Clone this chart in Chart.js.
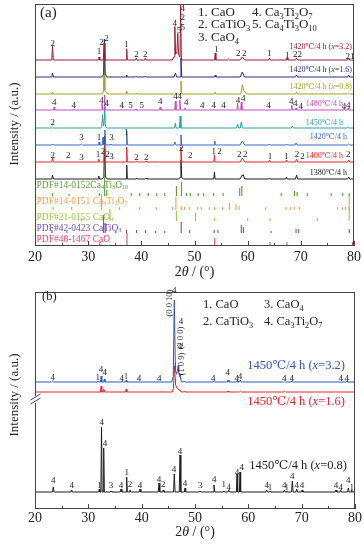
<!DOCTYPE html>
<html><head><meta charset="utf-8">
<script src="https://cdn.jsdelivr.net/npm/chart.js@4/dist/chart.umd.min.js"></script>
<style>
html,body{margin:0;padding:0;background:#fff;}
#wrap{position:relative;width:364px;height:545px;overflow:hidden;background:#fff;}
canvas{position:absolute;left:0;}
</style></head><body>
<div id="wrap">
<canvas id="ca" width="364" height="285" style="top:0"></canvas>
<canvas id="cb" width="364" height="260" style="top:285px"></canvas>
</div>
<script>
// ---------------- shared axis ----------------
const xTickLabels = ['20','30','40','50','60','70','80'];

// ---------------- panel (a): patterns, peaks = [2θ, intensity, half-width] ----------------
const a_x32 = [[23.3,14,.15],[32.06,3,.12],[33.0,17,.15],[37.25,11,.12],[39.07,2,.15],[40.76,2,.15],[46.3,29,.15],[46.85,20,.15],[46.7,8,.9],[47.4,53,.13],[53.9,7,.12],[56.4,1,.2],[59.0,3,.45],[64.1,2,.15],[67.4,2,.15],[69.2,2,.2],[79.0,2,.2]];
const a_x16 = [[23.3,4,.15],[33.05,34,.15],[33.05,4,.5],[37.25,2,.12],[39.07,1,.15],[40.76,1,.15],[46.4,4,.25],[47.45,19,.15],[53.9,2,.12],[59.0,5,.4],[69.2,2,.2],[79.0,2,.2]];
const a_x08 = [[23.3,2,.15],[33.0,31,.15],[33.1,4,.5],[37.25,3,.12],[39.07,1,.15],[47.45,13,.15],[53.9,2,.15],[59.0,8,.3],[59.3,3,.5],[69.2,2,.2],[79.0,1,.2]];
const a_1480 = [[23.6,3,.12],[27.3,1,.15],[32.6,7,.12],[33.1,15,.12],[36.3,1,.15],[39.0,1,.15],[43.55,3,.12],[46.4,9,.12],[47.25,10,.12],[48.2,2,.12],[53.6,1,.15],[58.1,7,.12],[58.8,8,.12],[68.3,5,.12],[69.1,2,.15],[78.1,2,.15],[78.9,2,.15]];
const a_1450 = [[23.3,1,.2],[32.7,12,.15],[33.1,18,.15],[33.0,3,.6],[46.4,5,.15],[47.3,12,.15],[58.1,4,.2],[58.8,6,.2],[68.4,2,.2],[78.9,1,.2]];
const a_1420 = [[23.3,1,.15],[28.7,1,.2],[32.06,3,.12],[32.8,8,.15],[33.15,15,.15],[34.3,1,.2],[37.25,14,.12],[46.3,3,.2],[47.45,10,.15],[53.8,4,.12],[59.0,4,.45],[64.1,1,.15],[67.3,1,.15],[69.1,2,.2],[79.0,1,.2]];
const a_1400 = [[23.3,4,.15],[32.0,3,.12],[33.1,18,.15],[37.25,15,.12],[39.1,1,.15],[40.9,1,.15],[47.45,15,.15],[53.75,7,.12],[59.0,4,.45],[64.1,2,.15],[67.3,2,.15],[69.2,3,.2],[79.0,2,.2]];
const a_1380 = [[23.3,4,.15],[32.0,3,.12],[33.1,40,.15],[33.1,3,.5],[37.25,14,.12],[39.1,1,.15],[40.9,1,.15],[47.45,17,.15],[47.45,2,.5],[53.75,7,.12],[59.0,4,.45],[59.2,2,.15],[64.1,1,.15],[67.3,2,.15],[69.2,4,.2],[79.0,2,.2]];
const a_offsets = [186,169,152,136,118,101,84,67];
const a_names = ['1420℃/4 h (*x*=3.2)','1420℃/4 h (*x*=1.6)','1420℃/4 h (*x*=0.8)','1480℃/4 h','1450℃/4 h','1420℃/4 h','1400℃/4 h','1380℃/4 h'];

// reference cards: sticks = [2θ, intensity]
const pdf_Ca4Ti3O10 = [[23.3,3],[26.4,2],[32.1,3],[33.1,22],[33.5,6],[38.1,3],[39.7,3],[41.3,3],[42.9,3],[44.4,3],[46.6,10],[47.55,14],[48.5,3],[49.2,3],[50.7,3],[51.7,3],[53.6,3],[55.4,3],[58.5,8],[58.9,10],[66.3,3],[68.8,5],[69.3,4],[71.2,3],[75.7,3],[77.9,3],[79.1,3]];
const pdf_Ca3Ti2O7 = [[23.4,3],[26.9,3],[32.5,16],[35.9,3],[39.7,3],[42.8,3],[45.9,3],[46.5,13],[47.5,4],[48.1,3],[49.1,3],[50.6,3],[51.25,3],[52.8,3],[53.75,3],[55.3,3],[56.6,7],[57.8,6],[58.4,4],[63.4,3],[67.2,3],[68.1,3],[68.75,3],[69.7,3],[76.9,3],[77.8,3],[78.4,3],[79.1,14]];
const pdf_CaO4 = [[28.7,3],[34.1,12],[46.6,10],[50.2,8],[53.8,3],[60.0,3],[64.2,3],[73.1,3],[79.1,14]];
const pdf_CaTiO3 = [[23.2,3],[26.0,2],[32.9,18],[33.2,10],[35.2,2],[37.2,3],[39.1,3],[40.8,3],[42.7,2],[44.4,2],[47.5,11],[49.1,3],[53.7,3],[54.4,3],[58.8,8],[59.2,6],[64.4,2],[69.1,4],[69.6,4],[79.1,4]];
const pdf_CaO = [[32.2,3],[37.3,12],[53.8,7],[64.2,3],[67.4,3],[79.7,3]];
const pdf_offsets = [50,36,25,13,1];
const pdf_names = ['PDF#14-0152Ca_{4}Ti_{3}O_{10}','PDF#14-0151 Ca_{3}Ti_{2}O_{7}','PDF#21-0155 CaO_{4}','PDF#42-0423 CaTiO_{3}','PDF#48-1467 CaO'];

// phase labels: [2θ, phase number, height above trace baseline]
const lab_x32 = [[23.32,'2',14],[32.06,'1',6.5],[32.51,'2',14.8],[33.44,'2',19],[37.19,'1',13],[39.07,'2',3],[40.76,'2',3],[46.3,'4',34],[47.1,'5',27],[47.8,'4',49.5],[47.8,'2',40.5],[47.8,'5',30.5],[54.07,'1',8],[58.25,'2',4.5],[59.38,'2',4.5],[64.07,'1',4.5],[67.44,'1',2.5],[69.37,'22',3.5],[79.25,'21',1.5]];
const lab_1480 = [[23.62,'4',5.5],[27.31,'4',2],[32.51,'4',7.5],[33.5,'4',4],[36.31,'4',2],[37.94,'5',2.5],[40.06,'5',2.5],[43.57,'4',6],[46.44,'4',11],[47.24,'4',11.5],[48.44,'4',5],[51.44,'4',2.5],[53.62,'4',2.5],[55.44,'4',2.5],[58.2,'4',7],[59.19,'4',9],[63.93,'4',2.5],[68.19,'4',6.5],[68.94,'4',4],[70.0,'4',1.5],[78.13,'4',1.5],[78.93,'4',2.5]];
const lab_1450 = [[23.32,'2',2.8]];
const lab_1420 = [[28.76,'3',4.8],[32.06,'1',5.5],[34.38,'3',4.8],[37.19,'1',9.8]];
const lab_1400 = [[23.32,'2',4.5],[26.24,'2',4.5],[28.76,'3',2.5],[31.87,'1',5],[32.81,'2',8],[33.63,'2',5],[34.38,'3',3],[39.07,'2',2],[40.94,'2',2],[47.5,'2',11],[49.2,'2',4.5],[53.62,'1',7.8],[54.69,'2',7.8],[58.44,'2',5],[59.56,'2',5],[64.19,'1',3],[67.31,'1',3],[69.26,'2',5],[70.31,'2',3],[78.93,'2',5]];

// ---------------- panel (b) ----------------
const b_x32 = [[23.3,1,.2],[31.8,1,.12],[32.4,6,.12],[33.0,3,.12],[36.3,1,.15],[37.1,2,.12],[46.12,73,.2],[46.3,12,.7],[46.85,14,.3],[47.2,7,.25],[48.0,1,.15],[53.5,1,.15],[56.2,2,.15],[57.9,1,.15],[58.5,2,.15],[66.8,1,.2],[68.2,1,.2],[78.5,1,.2]];
const b_x16 = [[32.4,6,.12],[32.9,3,.12],[37.1,3,.12],[46.15,20,.2],[46.3,8,.6],[46.9,3,.3],[47.2,2,.2],[48.0,1,.15],[56.2,1,.15],[58.5,1,.2],[66.8,0.7,.2]];
const b_x08 = [[23.43,5,.15],[26.88,2,.15],[32.06,3,.12],[32.47,65,.12],[32.88,44,.12],[34.25,1,.15],[36.13,3,.15],[37.19,15,.12],[37.81,2,.12],[39.69,3,.15],[43.25,9,.15],[44.06,2,.12],[46.12,18,.15],[47.19,37,.15],[48.13,4,.12],[51.0,1,.15],[53.56,7,.15],[55.38,1,.15],[56.32,2,.15],[57.88,18,.12],[58.44,20,.12],[63.45,2,.15],[64.07,1,.12],[66.75,2,.15],[67.2,1,.12],[68.25,11,.15],[69.07,3,.15],[70.07,2,.15],[76.44,2,.15],[77.32,2,.15],[78.75,4,.15],[79.38,2,.12]];
const b_offsets = [127,117,17];
const b_names = ['1450℃/4 h (*x*=3.2)','1450℃/4 h (*x*=1.6)','1450℃/4 h (*x*=0.8)'];
const lab_b32 = [[23.32,'4',1.7],[31.76,'1',1.7],[32.38,'4',10],[33.07,'4',7.3],[36.26,'4',0.7],[37.06,'1',3],[39.5,'4',0.7],[43.31,'4',0.7],[53.43,'4',0.7],[56.13,'4',7.3],[57.82,'4',0.7],[58.44,'4',3],[66.75,'4',0.7],[68.13,'4',0.7],[77.32,'4',0.7],[78.45,'4',0.7]];
const lab_b08 = [[23.43,'4',9],[26.88,'4',4],[32.06,'1',4],[32.51,'4',67],[33.13,'4',46],[34.25,'3',4],[36.13,'4',4],[37.19,'1',17],[37.81,'2',5],[39.69,'4',4],[43.25,'4',10],[44.06,'2',5],[46.06,'4',20],[47.19,'4',38],[48.13,'4',6],[51.0,'3',4],[53.62,'4',10],[55.38,'1',5],[56.32,'4',2],[57.88,'4',17],[58.76,'4',22],[63.45,'4',4],[64.07,'1',2],[66.75,'4',4],[67.2,'1',2],[68.25,'4',13],[69.07,'4',4],[70.07,'4',4],[76.44,'4',4],[77.32,'4',2],[78.75,'4',9],[79.38,'1',2]];
// Miller indices (rotated) and their phase marks: [2θ, text, level]
const millerB = [[45.31,'(0 0 10)',206],[47.38,'(2 0 0)',171],[47.5,'(1 0 9)',145]];
const millerB4 = [[46.12,'4',218],[47.38,'4',187],[47.19,'4',162]];

// ---------------- styles ----------------
const FONT = "'Liberation Serif','Times New Roman','DejaVu Serif',serif";
const colA = ['#9b1b2e','#2b2b82','#a3a31e','#c34fc3','#2e9fa6','#3868c6','#e6262a','#1e1e1e'];
const colPDF = ['#5b9b31','#f4a04c','#98c845','#6e4fb0','#e6437e'];
const colB = ['#2f57b3','#e6262a','#1e1e1e'];

// ---------------- helpers ----------------
const X_MIN = +xTickLabels[0], X_MAX = +xTickLabels[xTickLabels.length-1];
function curve(peaks, offset){
  const xs = new Set([X_MIN, X_MAX]);
  peaks.forEach(([p,h,w])=>{xs.add(p-w);xs.add(p);xs.add(p+w);});
  return [...xs].filter(x=>x>=X_MIN&&x<=X_MAX).sort((a,b)=>a-b)
    .map(x=>({x, y: offset + peaks.reduce((s,[p,h,w])=>s+Math.max(0,h*(1-Math.abs(x-p)/w)),0)}));
}
function lineDs(peaks, offset, color){
  return {data: curve(peaks, offset), borderColor: color, borderWidth: 1, pointRadius: 0, tension: 0, fill: false};
}
function stickDs(sticks, offset, color){
  const pts = [];
  sticks.forEach(([p,h])=>{ pts.push({x:p,y:offset},{x:p,y:offset+h},{x:p,y:null}); });
  return {data: pts, borderColor: color, borderWidth: 1.1, pointRadius: 0, tension: 0, fill: false, spanGaps: false};
}
function segs(s){
  const out=[]; const re=/_\{([^}]*)\}|\*([^*]*)\*/g; let last=0,m;
  while((m=re.exec(s))){ if(m.index>last) out.push({t:s.slice(last,m.index),k:'n'});
    if(m[1]!==undefined) out.push({t:m[1],k:'sub'}); else out.push({t:m[2],k:'it'}); last=re.lastIndex; }
  if(last<s.length) out.push({t:s.slice(last),k:'n'}); return out;
}
function drawRich(ctx,s,x,y,size,align,color){
  const parts=segs(s);
  const fontOf=k=> k==='sub'? `${size*0.65}px ${FONT}` : k==='it'? `italic ${size}px ${FONT}` : `${size}px ${FONT}`;
  let w=0; parts.forEach(p=>{ctx.font=fontOf(p.k); p.w=ctx.measureText(p.t).width; w+=p.w;});
  let cx = align==='right'? x-w : align==='center'? x-w/2 : x;
  ctx.fillStyle=color; ctx.textAlign='left'; ctx.textBaseline='middle';
  parts.forEach(p=>{ctx.font=fontOf(p.k); ctx.fillText(p.t,cx,p.k==='sub'? y+size*0.3 : y); cx+=p.w;});
}
function drawPhaseLabels(chart, labels, offset, size){
  const {ctx, scales:{x,y}} = chart;
  ctx.save(); ctx.fillStyle='#222'; ctx.font=`${size}px ${FONT}`; ctx.textAlign='center'; ctx.textBaseline='alphabetic';
  labels.forEach(([t,txt,lv])=>ctx.fillText(txt, x.getPixelForValue(t), y.getPixelForValue(offset+lv)));
  ctx.restore();
}
function frame(chart, breakY){
  const {ctx, chartArea:a, scales:{x}} = chart;
  ctx.save(); ctx.strokeStyle='#444'; ctx.lineWidth=1;
  ctx.strokeRect(Math.round(a.left)+0.5, Math.round(a.top)+0.5, Math.round(a.right-a.left)-1, Math.round(a.bottom-a.top)-1);
  const vals = xTickLabels.map(Number);
  ctx.beginPath();
  vals.forEach((v,i)=>{
    const px=Math.round(x.getPixelForValue(v))+0.5;
    ctx.moveTo(px,a.bottom); ctx.lineTo(px,a.bottom-5);
    if(i<vals.length-1){ const m=Math.round(x.getPixelForValue((v+vals[i+1])/2))+0.5; ctx.moveTo(m,a.bottom); ctx.lineTo(m,a.bottom-3); }
  });
  ctx.stroke();
  if(breakY){
    const L=Math.round(a.left)+0.5;
    ctx.fillStyle='#fff'; ctx.fillRect(L-3, breakY-3, 6, 7);
    ctx.beginPath();
    ctx.moveTo(L-5,breakY+1); ctx.lineTo(L+5,breakY-5);
    ctx.moveTo(L-5,breakY+5); ctx.lineTo(L+5,breakY-1);
    ctx.stroke();
  }
  ctx.restore();
}
function axisTitles(chart, yCenter, xTitleY){
  const {ctx, chartArea:a} = chart;
  ctx.save();
  drawRich(ctx,'2*θ* / (°)', (a.left+a.right)/2, xTitleY, 14, 'center', '#222');
  ctx.translate(15, yCenter); ctx.rotate(-Math.PI/2);
  drawRich(ctx,'Intensity / (a.u.)', 0, 0, 13, 'center', '#222');
  ctx.restore();
}
function baseOptions(pad, ymax, xh, tickPad){
  return {
    responsive:false, animation:false, devicePixelRatio:1,
    layout:{padding:pad},
    plugins:{legend:{display:false}, tooltip:{enabled:false}},
    scales:{
      x:{type:'linear', min:X_MIN, max:X_MAX, offset:false,
        afterBuildTicks:s=>{ s.ticks = xTickLabels.map(t=>({value:+t})); },
        ticks:{callback:(v,i)=>xTickLabels[i], font:{family:FONT, size:14}, color:'#222', padding:tickPad, maxRotation:0, autoSkip:false},
        grid:{display:false, drawTicks:false}, border:{display:false},
        afterFit:s=>{ s.height = xh; }},
      y:{display:false, min:0, max:ymax}
    }
  };
}

// ---------------- chart (a) ----------------
const tracesA = [a_x32,a_x16,a_x08,a_1480,a_1450,a_1420,a_1400,a_1380];
const pdfA = [pdf_Ca4Ti3O10,pdf_Ca3Ti2O7,pdf_CaO4,pdf_CaTiO3,pdf_CaO];
const labelsA = [[lab_x32,0],[lab_1480,3],[lab_1450,4],[lab_1420,5],[lab_1400,6]];
const dsA = [];
pdfA.forEach((s,i)=>dsA.push(stickDs(s,pdf_offsets[i],colPDF[i])));
tracesA.forEach((p,i)=>dsA.push(lineDs(p,a_offsets[i],colA[i])));

const annA = {id:'annA', afterDraw(chart){
  const {ctx} = chart;
  frame(chart, null);
  labelsA.forEach(([lab,k])=>drawPhaseLabels(chart, lab, a_offsets[k], 9));
  const nameR = [352,352,352,343,343,347,343,347];
  const nameY = [46.5,70,87.3,104,122.7,136.7,155.7,173.3];
  a_names.forEach((n,i)=>drawRich(ctx,n,nameR[i],nameY[i],8,'right',colA[i]));
  const pdfY = [185,201,217,228,239];
  pdf_names.forEach((n,i)=>drawRich(ctx,n,36.5,pdfY[i],9.5,'left',colPDF[i]));
  drawRich(ctx,'(a)',40,13,15,'left','#222');
  drawRich(ctx,'1. CaO',198,12.7,13,'left','#222');
  drawRich(ctx,'4. Ca_{3}Ti_{2}O_{7}',252,12.7,13,'left','#222');
  drawRich(ctx,'2. CaTiO_{3}',198,25,13,'left','#222');
  drawRich(ctx,'5. Ca_{4}Ti_{3}O_{10}',252,25,13,'left','#222');
  drawRich(ctx,'3. CaO_{4}',198,37.5,13,'left','#222');
  axisTitles(chart, 124, 272);
}};
new Chart(document.getElementById('ca'), {
  type:'line', data:{datasets:dsA},
  options: baseOptions({left:35,right:9,top:4,bottom:9}, 242, 30, 3),
  plugins:[annA]
});

// ---------------- chart (b) ----------------
const tracesB = [b_x32,b_x16,b_x08];
const dsB = tracesB.map((p,i)=>lineDs(p,b_offsets[i],colB[i]));
const annB = {id:'annB', afterDraw(chart){
  const {ctx, scales:{x,y}} = chart;
  frame(chart, 114);
  drawPhaseLabels(chart, lab_b32, b_offsets[0], 9);
  drawPhaseLabels(chart, lab_b08, b_offsets[2], 9);
  millerB.forEach(([t,txt,lv])=>{
    ctx.save(); ctx.translate(x.getPixelForValue(t), y.getPixelForValue(lv)); ctx.rotate(-Math.PI/2);
    drawRich(ctx, txt, 0, 0, 8.5, 'center', '#222'); ctx.restore();
  });
  millerB4.forEach(([t,txt,lv])=>drawRich(ctx, txt, x.getPixelForValue(t), y.getPixelForValue(lv), 9, 'center', '#222'));
  const nameR = [345,345,347]; const nameY = [81,117,181];
  b_names.forEach((n,i)=>drawRich(ctx,n,nameR[i],nameY[i],12.5,'right',colB[i]));
  drawRich(ctx,'(b)',42,12,12.5,'left','#222');
  drawRich(ctx,'1. CaO',203,20,12.5,'left','#222');
  drawRich(ctx,'3. CaO_{4}',264,20,12.5,'left','#222');
  drawRich(ctx,'2. CaTiO_{3}',203,37,12.5,'left','#222');
  drawRich(ctx,'4. Ca_{3}Ti_{2}O_{7}',264,37,12.5,'left','#222');
  axisTitles(chart, 110, 247);
}};
new Chart(document.getElementById('cb'), {
  type:'line', data:{datasets:dsB},
  options: baseOptions({left:35,right:9,top:7,bottom:10}, 217, 26, 1),
  plugins:[annB]
});
</script>
</body></html>
